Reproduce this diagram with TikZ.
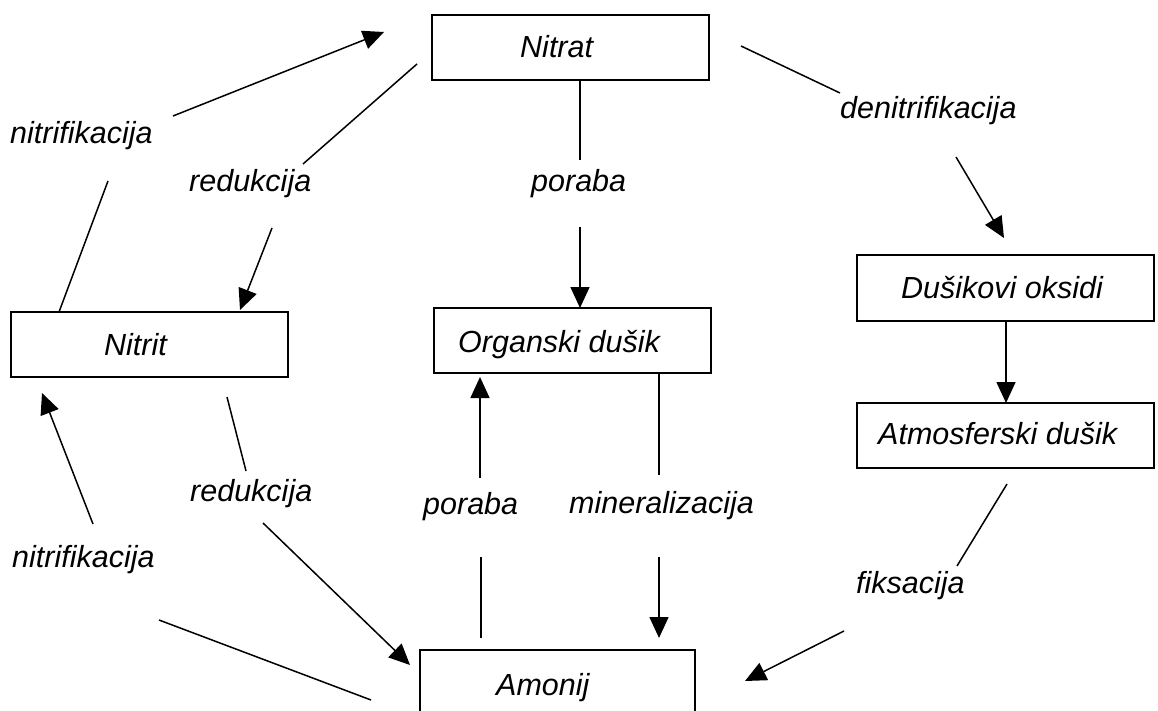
\documentclass[tikz,border=0pt]{standalone}
\usepackage{fontspec}
\setmainfont{Liberation Sans}
\usetikzlibrary{arrows.meta}
\begin{document}
\begin{tikzpicture}[x=1pt,y=-1pt,
  box/.style={draw=black, line width=1.7pt, rectangle, inner sep=0pt},
  txt/.style={inner sep=0pt, anchor=base west, font=\fontsize{30.5pt}{36pt}\selectfont\itshape},
  ln/.style={draw=black, line width=1.5pt},
  arr/.style={draw=black, line width=1.5pt, -{Triangle[length=21pt,width=19pt]}}]
\useasboundingbox (0,0) rectangle (1158,711);
\clip (0,0) rectangle (1158,711);
\fill[white] (0,0) rectangle (1158,711);
% boxes
\node[box, minimum width=277pt, minimum height=65pt] (nitrat) at (570.5,47.5) {};
\node[box, minimum width=277pt, minimum height=65pt] (nitrit) at (149.5,344.5) {};
\node[box, minimum width=277pt, minimum height=65pt] (organ) at (572.5,340.5) {};
\node[box, minimum width=297pt, minimum height=66pt] (dusox) at (1005.5,288) {};
\node[box, minimum width=297pt, minimum height=65pt] (atmo) at (1005.5,435.5) {};
\node[box, minimum width=275pt, minimum height=65pt] (amonij) at (557.5,682.5) {};
% box texts
\node[txt] (tnitrat) at (520,58) {Nitrat};
\node[txt] (tnitrit) at (104,355) {Nitrit};
\node[txt] (torgan) at (458,352) {Organski dušik};
\node[txt] (tdusox) at (901,298) {Dušikovi oksidi};
\node[txt] (tatmo) at (878,444) {Atmosferski dušik};
\node[txt] (tamonij) at (496,695) {Amonij};
% labels
\node[txt] (lnitup) at (10,144) {nitrifikacija};
\node[txt] (lredup) at (189,192) {redukcija};
\node[txt] (lporup) at (531,192) {poraba};
\node[txt] (ldenit) at (840,119) {denitrifikacija};
\node[txt] (lredlo) at (190,501) {redukcija};
\node[txt] (lporlo) at (423,514) {poraba};
\node[txt] (lminer) at (569,513) {mineralizacija};
\node[txt] (lnitlo) at (12,567) {nitrifikacija};
\node[txt] (lfiks) at (856,593) {fiksacija};
% connector end points
\coordinate (a1) at (173,116); \coordinate (a2) at (384,32);
\coordinate (b1) at (59,312);  \coordinate (b2) at (108,181);
\coordinate (c1) at (417,64);  \coordinate (c2) at (303,164);
\coordinate (c3) at (272,228); \coordinate (c4) at (240,310);
\coordinate (d1) at (580,80);  \coordinate (d2) at (580,160);
\coordinate (d3) at (580,227); \coordinate (d4) at (580,308);
\coordinate (e1) at (741,46);  \coordinate (e2) at (840,93);
\coordinate (e3) at (956,157); \coordinate (e4) at (1004,238);
\coordinate (f1) at (1006,321); \coordinate (f2) at (1006,403);
\coordinate (g1) at (1007,484); \coordinate (g2) at (957,566);
\coordinate (g3) at (844,631); \coordinate (g4) at (745,681);
\coordinate (h1) at (659,373); \coordinate (h2) at (659,475);
\coordinate (h3) at (659,557); \coordinate (h4) at (659,638);
\coordinate (i1) at (481,638); \coordinate (i2) at (481,557);
\coordinate (i3) at (480,478); \coordinate (i4) at (480,377);
\coordinate (j1) at (227,397); \coordinate (j2) at (246,471);
\coordinate (j3) at (263,523); \coordinate (j4) at (410,665);
\coordinate (k1) at (93,524);  \coordinate (k2) at (42,393);
\coordinate (k3) at (159,620); \coordinate (k4) at (371,700);
% connectors
\draw[arr] (a1) -- (a2);
\draw[ln] (b1) -- (b2);
\draw[ln] (c1) -- (c2);
\draw[arr] (c3) -- (c4);
\draw[ln] (d1) -- (d2);
\draw[arr] (d3) -- (d4);
\draw[ln] (e1) -- (e2);
\draw[arr] (e3) -- (e4);
\draw[arr] (f1) -- (f2);
\draw[ln] (g1) -- (g2);
\draw[arr] (g3) -- (g4);
\draw[ln] (h1) -- (h2);
\draw[arr] (h3) -- (h4);
\draw[ln] (i1) -- (i2);
\draw[arr] (i3) -- (i4);
\draw[ln] (j1) -- (j2);
\draw[arr] (j3) -- (j4);
\draw[arr] (k1) -- (k2);
\draw[ln] (k3) -- (k4);
\end{tikzpicture}
\end{document}
